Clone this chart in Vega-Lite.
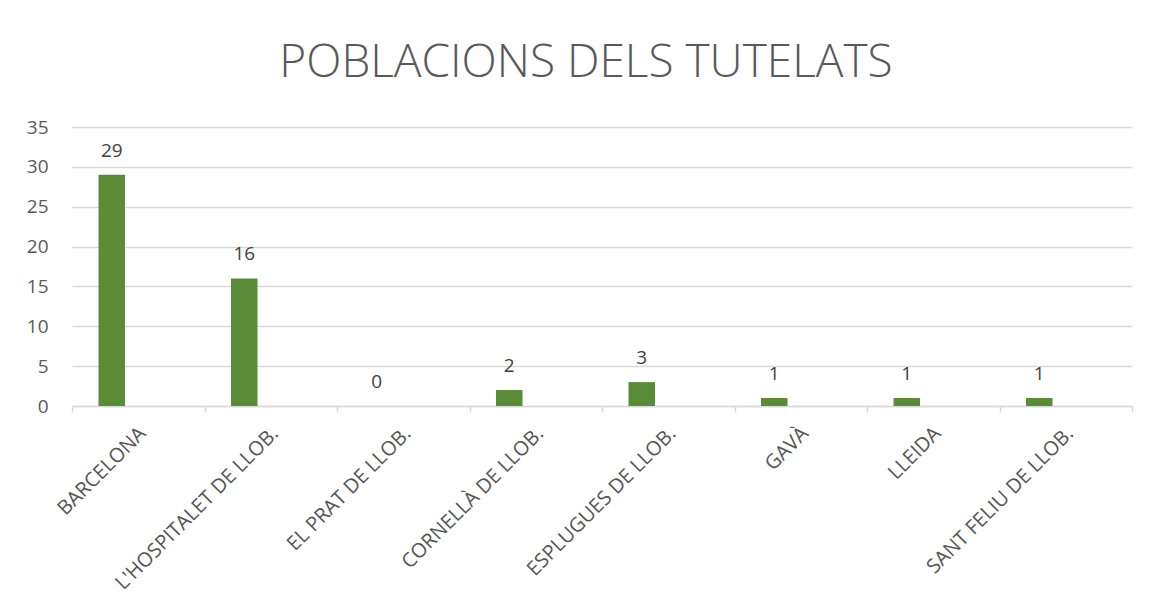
{
  "$schema": "https://vega.github.io/schema/vega-lite/v6.json",
  "width": 1060,
  "height": 279,
  "autosize": {"type": "none"},
  "padding": {"left": 72, "top": 127, "right": 20, "bottom": 210},
  "background": "white",
  "title": {
    "text": "POBLACIONS DELS TUTELATS",
    "font": "Open Sans",
    "fontWeight": 300,
    "fontSize": 46,
    "color": "#595959",
    "anchor": "middle",
    "dx": -16,
    "offset": 31
  },
  "data": {
    "values": [
      {"poblacio": "BARCELONA", "serie": "Total", "tutelats": 29},
      {"poblacio": "L'HOSPITALET DE LLOB.", "serie": "Total", "tutelats": 16},
      {"poblacio": "EL PRAT DE LLOB.", "serie": "Total", "tutelats": 0},
      {"poblacio": "CORNELLÀ DE LLOB.", "serie": "Total", "tutelats": 2},
      {"poblacio": "ESPLUGUES DE LLOB.", "serie": "Total", "tutelats": 3},
      {"poblacio": "GAVÀ", "serie": "Total", "tutelats": 1},
      {"poblacio": "LLEIDA", "serie": "Total", "tutelats": 1},
      {"poblacio": "SANT FELIU DE LLOB.", "serie": "Total", "tutelats": 1}
    ]
  },
  "encoding": {
    "x": {
      "field": "poblacio",
      "type": "nominal",
      "sort": null,
      "scale": {"paddingInner": 0, "paddingOuter": 0},
      "axis": {
        "title": null,
        "labelAngle": -45,
        "labelFont": "Open Sans",
        "labelFontSize": 20,
        "labelColor": "#555555",
        "labelPadding": 11,
        "labelOffset": -3,
        "tickBand": "extent",
        "tickColor": "#d9d9d9",
        "tickSize": 6,
        "tickWidth": 1.5,
        "domainColor": "#d9d9d9",
        "domainWidth": 1.5,
        "grid": false,
        "labelLimit": 400
      }
    },
    "xOffset": {
      "field": "serie",
      "type": "nominal",
      "scale": {"domain": ["Total", "s2", "s3"], "paddingInner": 0, "paddingOuter": 1}
    },
    "y": {
      "field": "tutelats",
      "type": "quantitative",
      "scale": {"domain": [0, 35]},
      "axis": {
        "title": null,
        "values": [0, 5, 10, 15, 20, 25, 30, 35],
        "labelFont": "Open Sans",
        "labelFontSize": 19,
        "labelColor": "#595959",
        "labelPadding": 24,
        "domain": false,
        "ticks": false,
        "gridColor": "#d9d9d9",
        "gridWidth": 1.5
      }
    }
  },
  "layer": [
    {"mark": {"type": "bar", "color": "#5a8b37"}},
    {
      "mark": {"type": "text", "baseline": "alphabetic", "dy": -18, "font": "Open Sans", "fontSize": 19, "color": "#404040"},
      "encoding": {"text": {"field": "tutelats", "type": "quantitative"}}
    }
  ],
  "config": {"view": {"stroke": null}}
}
